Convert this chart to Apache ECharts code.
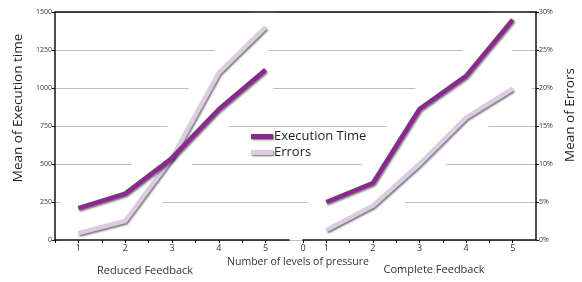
<!DOCTYPE html>
<html>
<head>
<meta charset="utf-8">
<script src="https://cdn.jsdelivr.net/npm/echarts@6/dist/echarts.min.js"></script>
<style>
  html, body { margin: 0; padding: 0; background: #fff; }
  #chart { width: 582px; height: 282px; }
</style>
</head>
<body>
<div id="chart"></div>
<script>
// pressure levels on both panels
const levels = [1, 2, 3, 4, 5]
// reduced feedback panel
const reducedExecTime = [210, 305, 540, 860, 1120]
const reducedErrors = [0.9, 2.5, 10.8, 22, 28]
// complete feedback panel
const completeExecTime = [250, 375, 862, 1080, 1450]
const completeErrors = [1.3, 4.5, 10, 16.1, 19.9]
// axis ranges
const timeMax = 1500, timeStep = 250
const errorMax = 30, errorStep = 5
// x tick labels (the right panel shows a "0" at its start)
const reducedXLabels = { 1: '1', 2: '2', 3: '3', 4: '4', 5: '5' }
const completeXLabels = { 0.5: '0', 1: '1', 2: '2', 3: '3', 4: '4', 5: '5' }

const execColor = '#8a2a8e'
const errColor = '#dccbe2'
const font = 'Open Sans'

let chart = echarts.init(document.getElementById('chart'))

const pairs = (ys) => levels.map((x, i) => [x, ys[i]])

const lineShadow = {
    shadowColor: 'rgba(0,0,0,0.55)',
    shadowBlur: 2,
    shadowOffsetX: 1,
    shadowOffsetY: 1.5
}

function mainLine(name, color, xi, yi, ys) {
    return {
        name: name,
        type: 'line',
        xAxisIndex: xi,
        yAxisIndex: yi,
        symbol: 'none',
        z: 4,
        color: color,
        lineStyle: Object.assign({ color: color, width: 4.5 }, lineShadow),
        data: pairs(ys)
    }
}

// wide white line under each curve, breaks the grid lines like the original
function halo(xi, yi, ys) {
    return {
        name: '_halo',
        type: 'line',
        xAxisIndex: xi,
        yAxisIndex: yi,
        symbol: 'none',
        silent: true,
        z: 1,
        lineStyle: { color: '#fff', width: 38, cap: 'round', join: 'round' },
        data: pairs(ys)
    }
}

function xAxisFor(gridIndex, labels) {
    return {
        type: 'value',
        gridIndex: gridIndex,
        min: 0.5,
        max: 5.5,
        interval: 0.5,
        z: 3,
        splitLine: { show: false },
        axisLine: { show: true, lineStyle: { color: '#111', width: 1.5 } },
        axisTick: { show: true, length: 3, lineStyle: { color: '#111' } },
        axisLabel: {
            show: true,
            margin: 4,
            fontSize: 9,
            fontFamily: font,
            color: '#333',
            showMinLabel: true,
            showMaxLabel: false,
            formatter: function (v) { return labels[v] !== undefined ? labels[v] : '' }
        }
    }
}

const tickLabelStyle = { fontSize: 7, fontFamily: font, color: '#333', margin: 3 }

const option = {
    animation: false,
    grid: [
        { left: 55, top: 12, width: 234, height: 228 },
        { left: 303, top: 12, width: 233, height: 228 },
        // full width grid only for horizontal guide lines
        { left: 55, top: 12, width: 482, height: 228 }
    ],
    legend: {
        orient: 'vertical',
        left: 246,
        top: 124,
        icon: 'rect',
        itemWidth: 22,
        itemHeight: 5,
        itemGap: 1,
        data: ['Execution Time', 'Errors'],
        itemStyle: {
            shadowColor: 'rgba(0,0,0,0.6)',
            shadowBlur: 2,
            shadowOffsetX: 1,
            shadowOffsetY: 1
        },
        textStyle: { fontSize: 13, fontFamily: font, color: '#231f20', padding: [0, 0, 0, -4], lineHeight: 15 }
    },
    xAxis: [
        xAxisFor(0, reducedXLabels),
        xAxisFor(1, completeXLabels),
        { type: 'value', gridIndex: 2, min: 0, max: 1, show: false }
    ],
    yAxis: [
        {
            type: 'value', gridIndex: 0, position: 'left', min: 0, max: timeMax, interval: timeStep, z: 3,
            splitLine: { show: false },
            axisLine: { show: true, lineStyle: { color: '#111', width: 1.5 } },
            axisTick: { show: true, length: 3, lineStyle: { color: '#111' } },
            axisLabel: Object.assign({}, tickLabelStyle, { formatter: (v) => String(v) })
        },
        {
            type: 'value', gridIndex: 0, min: 0, max: errorMax, interval: errorStep, show: false
        },
        {
            type: 'value', gridIndex: 1, position: 'right', min: 0, max: errorMax, interval: errorStep, z: 3,
            splitLine: { show: false },
            axisLine: { show: true, lineStyle: { color: '#111', width: 1.5 } },
            axisTick: { show: true, length: 3, lineStyle: { color: '#111' } },
            axisLabel: Object.assign({}, tickLabelStyle, { formatter: '{value}%' })
        },
        {
            type: 'value', gridIndex: 1, min: 0, max: timeMax, interval: timeStep, show: false
        },
        {
            type: 'value', gridIndex: 2, min: 0, max: timeMax, interval: timeStep, z: 0,
            axisLine: { show: false },
            axisTick: { show: false },
            axisLabel: { show: false },
            splitLine: { show: true, lineStyle: { color: '#bdbdbd', width: 1 } }
        }
    ],
    graphic: [
        {
            type: 'line', z: 10,
            shape: { x1: 55, y1: 12, x2: 537, y2: 12 },
            style: { stroke: '#111', lineWidth: 1.5 }
        },
        {
            type: 'text', z: 10, x: 18, y: 108, rotation: Math.PI / 2,
            style: { text: 'Mean of Execution time', fontSize: 13.5, fontFamily: font, fill: '#231f20', textAlign: 'center', textVerticalAlign: 'middle' }
        },
        {
            type: 'text', z: 10, x: 570, y: 115, rotation: Math.PI / 2,
            style: { text: 'Mean of Errors', fontSize: 13.5, fontFamily: font, fill: '#231f20', textAlign: 'center', textVerticalAlign: 'middle' }
        },
        {
            type: 'text', z: 10, x: 145, y: 271,
            style: { text: 'Reduced Feedback', fontSize: 11, fontFamily: font, fill: '#333', textAlign: 'center', textVerticalAlign: 'middle' }
        },
        {
            type: 'text', z: 10, x: 298, y: 262,
            style: { text: 'Number of levels of pressure', fontSize: 10.5, fontFamily: font, fill: '#333', textAlign: 'center', textVerticalAlign: 'middle' }
        },
        {
            type: 'text', z: 10, x: 434, y: 270,
            style: { text: 'Complete Feedback', fontSize: 11, fontFamily: font, fill: '#333', textAlign: 'center', textVerticalAlign: 'middle' }
        }
    ],
    series: [
        halo(0, 0, reducedExecTime),
        halo(0, 1, reducedErrors),
        halo(1, 3, completeExecTime),
        halo(1, 2, completeErrors),
        mainLine('Errors', errColor, 0, 1, reducedErrors),
        mainLine('Execution Time', execColor, 0, 0, reducedExecTime),
        mainLine('Errors', errColor, 1, 2, completeErrors),
        mainLine('Execution Time', execColor, 1, 3, completeExecTime)
    ]
}
chart.setOption(option)
</script>
</body>
</html>
